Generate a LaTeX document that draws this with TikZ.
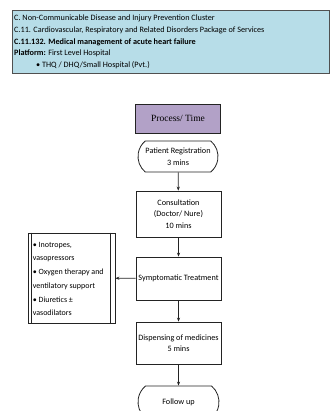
\documentclass[tikz,border=0pt]{standalone}
\usepackage{fontspec}
\setmainfont{Carlito}
\newfontfamily\titlefont{Liberation Serif}
\usepackage{tikz}
\usetikzlibrary{arrows.meta,calc,shapes.misc,positioning}
\definecolor{hdrblue}{RGB}{183,221,232}
\definecolor{hdrline}{RGB}{80,80,80}
\definecolor{procpurple}{RGB}{178,161,199}
\definecolor{boxline}{RGB}{35,35,35}

\begin{document}
\begin{tikzpicture}[
  x=1pt, y=-1pt,
  font=\fontsize{8.2}{11.6}\selectfont,
  flow/.style={-{Stealth[length=4pt,width=3.2pt]}, boxline, line width=0.7pt},
  stepbox/.style={draw=boxline, line width=0.8pt, minimum width=85pt, align=center, inner sep=2pt},
  termbox/.style={stepbox, rounded rectangle, rounded rectangle arc length=100},
]
\path[use as bounding box] (0,0) rectangle (330,411);
% Header: package of services
\node[draw=hdrline, line width=0.8pt, fill=hdrblue, minimum width=317pt, minimum height=63pt, anchor=north west, inner sep=0pt] (header) at (12,10) {};
\node[anchor=north west, align=left, inner sep=0pt] (hdrtext) at ($(header.north west)+(2,5)$) {C. Non-Communicable Disease and Injury Prevention Cluster\\
C.11. Cardiovascular, Respiratory and Related Disorders Package of Services\\
\textbf{C.11.132. Medical management of acute heart failure}\\
\textbf{Platform:} First Level Hospital\\
\hspace*{22pt}• THQ / DHQ/Small Hospital (Pvt.)};

% Flow of the process
\node[stepbox, fill=procpurple, minimum height=29pt, font=\titlefont\fontsize{9.5}{11}\selectfont] (process) at (178,118.5) {Process/ Time};
\node[termbox, minimum height=31pt, minimum width=84pt] (registration) at (178,156.5) {Patient Registration\\3 mins};
\node[stepbox, minimum height=46pt] (consultation) at (178.5,214) {Consultation\\(Doctor/ Nure)\\10 mins};
\node[stepbox, minimum height=43pt] (treatment) at (178.5,278.5) {Symptomatic Treatment};
\node[stepbox, minimum height=42pt] (dispensing) at (178.5,343) {Dispensing of medicines\\5 mins};
\node[termbox, minimum height=32pt] (followup) at (178.5,402) {Follow up};

% Treatment options
\node[draw=boxline, line width=0.8pt, minimum width=87pt, minimum height=90pt, inner sep=0pt] (drugs) at (71.5,278) {};
\draw[boxline, line width=0.8pt] ($(drugs.north west)+(4,0)$) -- ($(drugs.south west)+(4,0)$);
\draw[boxline, line width=0.8pt] ($(drugs.north east)+(-5,0)$) -- ($(drugs.south east)+(-5,0)$);
\node[anchor=west, align=left, inner sep=0pt, font=\fontsize{8}{13.7}\selectfont] (drugtext) at ($(drugs.west)+(5,1)$) {• Inotropes,\\
vasopressors\\
• Oxygen therapy and\\
ventilatory support\\
• Diuretics ±\\
vasodilators};

\draw[flow] (registration) -- (consultation);
\draw[flow] (consultation) -- (treatment);
\draw[flow] (treatment) -- (dispensing);
\draw[flow] (dispensing) -- (followup);
\draw[flow] (treatment) -- (drugs);
\end{tikzpicture}
\end{document}
